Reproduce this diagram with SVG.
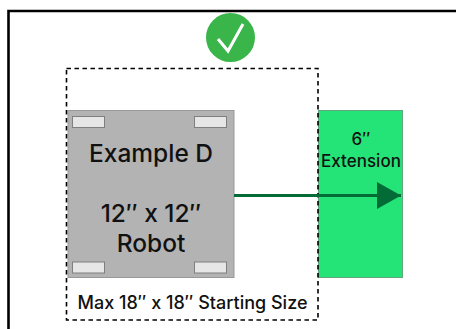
<svg xmlns="http://www.w3.org/2000/svg" width="456" height="329" viewBox="0 0 456 329">
<defs>
<style>
text{font-family:Inter,"Liberation Sans",sans-serif;fill:#111;text-anchor:middle;font-weight:500}
.big{font-size:24.5px}
.mid{font-size:17px}
.pad{fill:#e6e6e6;stroke:#7f7f7f;stroke-width:1}
</style>
<marker id="arrow" markerUnits="userSpaceOnUse" markerWidth="25" markerHeight="28" refX="24.5" refY="14" orient="auto"><path d="M0.5 0.5L24.5 14L0.5 27.5Z" fill="#036b35"/></marker>
</defs>
<rect width="456" height="329" fill="#fff"/>
<path d="M8.5 329V11H456" fill="none" stroke="#000" stroke-width="2.6"/>
<g id="check"><circle cx="230.500" cy="37.500" r="24.500" fill="#3ab54a"/><path d="M218 39L228 51L243 24" fill="none" stroke="#fff" stroke-width="3"/></g>
<g id="extension"><rect x="318.500" y="110.500" width="84" height="167" fill="#25e477" stroke="#5fa67e" stroke-width="1"/><text class="mid" x="361" y="145">6″</text><text class="mid" x="361" y="167">Extension</text></g>
<g id="robot"><rect x="68" y="110.500" width="166" height="167" fill="#b3b3b3" stroke="#999" stroke-width="1"/>
<rect class="pad" x="72.500" y="116.500" width="32" height="11"/><rect class="pad" x="194.500" y="116.500" width="32" height="11"/><rect class="pad" x="72.500" y="262" width="32" height="11"/><rect class="pad" x="194.500" y="262" width="32" height="11"/>
<text class="big" x="151" y="162">Example D</text><text class="big" x="151" y="222">12″ x 12″</text><text class="big" x="151" y="252">Robot</text></g>
<g id="boundary"><rect x="66.500" y="68.500" width="251.500" height="251.500" fill="none" stroke="#000" stroke-width="1.600" stroke-dasharray="4.500 3.500"/><text x="192.500" y="309" font-size="18">Max 18″ x 18″ Starting Size</text></g>
<g id="connectors"><path d="M234 195.500H401" fill="none" stroke="#036b35" stroke-width="2.800" marker-end="url(#arrow)"/></g>
</svg>
